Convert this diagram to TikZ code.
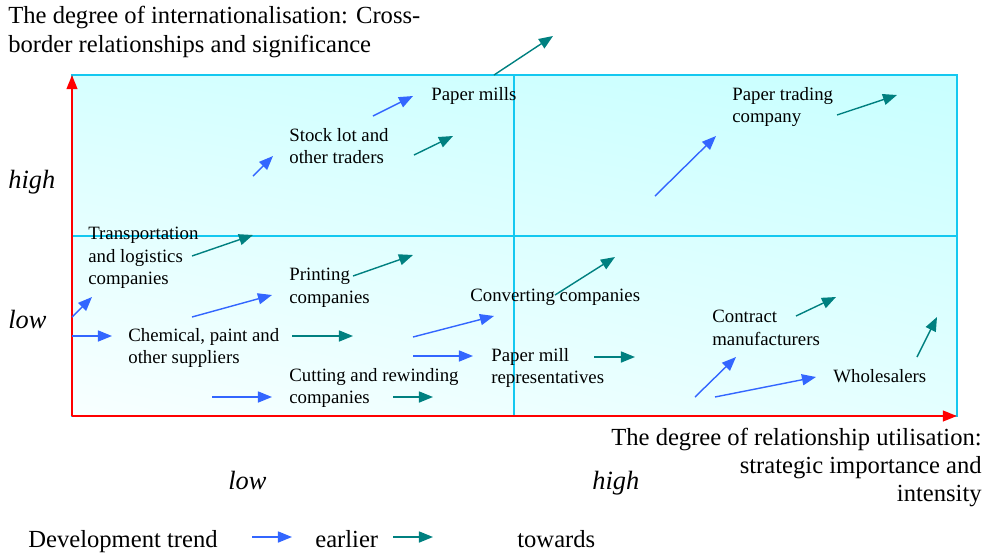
\documentclass[tikz,border=0pt]{standalone}
\usepackage{fontspec}
\setmainfont{Liberation Serif}
\usetikzlibrary{arrows.meta,shadings}

\begin{document}
\begin{tikzpicture}[scale=2,>={Triangle[length=8pt,width=6.3pt]}]

\definecolor{earlier_draw}{RGB}{51,102,255}
\definecolor{towards_draw}{RGB}{0,128,128}
\definecolor{grid_draw}{RGB}{20,200,240}
\definecolor{axis_draw}{RGB}{255,0,0}
\definecolor{field_ul}{RGB}{214,255,255}
\definecolor{field_ur}{RGB}{200,255,255}
\definecolor{field_ll}{RGB}{248,255,255}
\definecolor{field_lr}{RGB}{228,255,255}
\tikzstyle{actor_style}=[anchor=west,align=left,inner sep=0pt,font=\fontsize{10.7}{12.8}\selectfont]
\tikzstyle{title_style}=[inner sep=0pt,font=\fontsize{14}{16}\selectfont]
\tikzstyle{level_style}=[anchor=base west,inner sep=0pt,font=\fontsize{15}{17}\selectfont\itshape]
\tikzstyle{earlier_edge_style}=[draw=earlier_draw,line width=0.8pt]
\tikzstyle{towards_edge_style}=[draw=towards_draw,line width=0.8pt]
\tikzstyle{grid_style}=[draw=grid_draw,line width=0.9pt]
\tikzstyle{axis_style}=[draw=axis_draw,line width=1.3pt,-{Triangle[length=8pt,width=6pt]}]

\useasboundingbox (0,0) rectangle (9.91,-5.55);

% field
\shade[upper left=field_ul,upper right=field_ur,lower left=field_ll,lower right=field_lr] (0.72,-0.75) rectangle (9.57,-4.16);
\draw[grid_style] (0.72,-0.75) rectangle (9.57,-4.16);
\draw[grid_style] (5.14,-0.75) -- (5.14,-4.16);
\draw[grid_style] (0.72,-2.36) -- (9.57,-2.36);

\coordinate(origin) at (0.72,-4.16);
\coordinate(yend) at (0.72,-0.75);
\coordinate(xend) at (9.57,-4.16);
\draw[axis_style](origin) -- (yend);
\draw[axis_style](origin) -- (xend);

% axis texts
\node(ytitle) at (0.08,-0.315) [title_style,anchor=west,align=left,font=\fontsize{14}{16.5}\selectfont] {The degree of internationalisation: Cross-\\border relationships and significance};
\node(xtitle) at (9.82,-4.675) [title_style,anchor=east,align=right] {The degree of relationship utilisation:\\strategic importance and\\intensity};
\node(yhigh) at (0.08,-1.88) [level_style] {high};
\node(ylow) at (0.08,-3.28) [level_style] {low};
\node(xlow) at (2.28,-4.89) [level_style] {low};
\node(xhigh) at (5.92,-4.89) [level_style] {high};

% actors
\node(mills) at (4.31,-0.96) [actor_style] {Paper mills};
\node(stocklot) at (2.89,-1.46) [actor_style] {Stock lot and\\other traders};
\node(trading) at (7.32,-1.07) [actor_style] {Paper trading\\company};
\node(transport) at (0.88,-2.58) [actor_style] {Transportation\\and logistics\\companies};
\node(printing) at (2.89,-2.88) [actor_style] {Printing\\companies};
\node(chemical) at (1.28,-3.48) [actor_style] {Chemical, paint and\\other suppliers};
\node(converting) at (4.70,-2.97) [actor_style] {Converting companies};
\node(cutting) at (2.89,-3.88) [actor_style] {Cutting and rewinding\\companies};
\node(millrep) at (4.91,-3.68) [actor_style] {Paper mill\\representatives};
\node(contract) at (7.12,-3.28) [actor_style] {Contract\\manufacturers};
\node(wholesale) at (8.33,-3.76) [actor_style] {Wholesalers};

% trend ends
\coordinate(mills_es) at (3.73,-1.16);
\coordinate(mills_ee) at (4.13,-0.96);
\coordinate(mills_ts) at (4.94,-0.75);
\coordinate(mills_te) at (5.53,-0.36);
\coordinate(stocklot_es) at (2.53,-1.76);
\coordinate(stocklot_ee) at (2.73,-1.56);
\coordinate(stocklot_ts) at (4.14,-1.55);
\coordinate(stocklot_te) at (4.53,-1.36);
\coordinate(trading_es) at (6.55,-1.96);
\coordinate(trading_ee) at (7.16,-1.36);
\coordinate(trading_ts) at (8.37,-1.15);
\coordinate(trading_te) at (8.97,-0.95);
\coordinate(transport_es) at (0.72,-3.17);
\coordinate(transport_ee) at (0.92,-2.97);
\coordinate(transport_ts) at (1.92,-2.56);
\coordinate(transport_te) at (2.53,-2.35);
\coordinate(printing_es) at (1.92,-3.17);
\coordinate(printing_ee) at (2.72,-2.95);
\coordinate(printing_ts) at (3.53,-2.76);
\coordinate(printing_te) at (4.13,-2.55);
\coordinate(chemical_es) at (0.72,-3.36);
\coordinate(chemical_ee) at (1.12,-3.36);
\coordinate(chemical_ts) at (2.92,-3.36);
\coordinate(chemical_te) at (3.53,-3.36);
\coordinate(converting_es) at (4.13,-3.37);
\coordinate(converting_ee) at (4.94,-3.16);
\coordinate(converting_ts) at (5.55,-2.95);
\coordinate(converting_te) at (6.15,-2.57);
\coordinate(cutting_es) at (2.12,-3.97);
\coordinate(cutting_ee) at (2.72,-3.97);
\coordinate(cutting_ts) at (3.93,-3.97);
\coordinate(cutting_te) at (4.33,-3.97);
\coordinate(millrep_es) at (4.13,-3.56);
\coordinate(millrep_ee) at (4.73,-3.56);
\coordinate(millrep_ts) at (5.94,-3.57);
\coordinate(millrep_te) at (6.35,-3.57);
\coordinate(contract_es) at (6.95,-3.97);
\coordinate(contract_ee) at (7.36,-3.57);
\coordinate(contract_ts) at (7.96,-3.16);
\coordinate(contract_te) at (8.36,-2.97);
\coordinate(wholesale_es) at (7.15,-3.97);
\coordinate(wholesale_ee) at (8.16,-3.77);
\coordinate(wholesale_ts) at (9.17,-3.57);
\coordinate(wholesale_te) at (9.37,-3.17);

\draw[->,earlier_edge_style](mills_es) -- (mills_ee);
\draw[->,towards_edge_style](mills_ts) -- (mills_te);
\draw[->,earlier_edge_style](stocklot_es) -- (stocklot_ee);
\draw[->,towards_edge_style](stocklot_ts) -- (stocklot_te);
\draw[->,earlier_edge_style](trading_es) -- (trading_ee);
\draw[->,towards_edge_style](trading_ts) -- (trading_te);
\draw[->,earlier_edge_style](transport_es) -- (transport_ee);
\draw[->,towards_edge_style](transport_ts) -- (transport_te);
\draw[->,earlier_edge_style](printing_es) -- (printing_ee);
\draw[->,towards_edge_style](printing_ts) -- (printing_te);
\draw[->,earlier_edge_style](chemical_es) -- (chemical_ee);
\draw[->,towards_edge_style](chemical_ts) -- (chemical_te);
\draw[->,earlier_edge_style](converting_es) -- (converting_ee);
\draw[->,towards_edge_style](converting_ts) -- (converting_te);
\draw[->,earlier_edge_style](cutting_es) -- (cutting_ee);
\draw[->,towards_edge_style](cutting_ts) -- (cutting_te);
\draw[->,earlier_edge_style](millrep_es) -- (millrep_ee);
\draw[->,towards_edge_style](millrep_ts) -- (millrep_te);
\draw[->,earlier_edge_style](contract_es) -- (contract_ee);
\draw[->,towards_edge_style](contract_ts) -- (contract_te);
\draw[->,earlier_edge_style](wholesale_es) -- (wholesale_ee);
\draw[->,towards_edge_style](wholesale_ts) -- (wholesale_te);

% legend
\node(legend) at (0.28,-5.47) [title_style,anchor=base west] {Development trend};
\coordinate(legend_es) at (2.52,-5.37);
\coordinate(legend_ee) at (2.92,-5.37);
\node(earlier) at (3.15,-5.47) [title_style,anchor=base west] {earlier};
\coordinate(legend_ts) at (3.93,-5.37);
\coordinate(legend_te) at (4.33,-5.37);
\node(towards) at (5.17,-5.47) [title_style,anchor=base west] {towards};
\draw[->,earlier_edge_style](legend_es) -- (legend_ee);
\draw[->,towards_edge_style](legend_ts) -- (legend_te);

\end{tikzpicture}
\end{document}
